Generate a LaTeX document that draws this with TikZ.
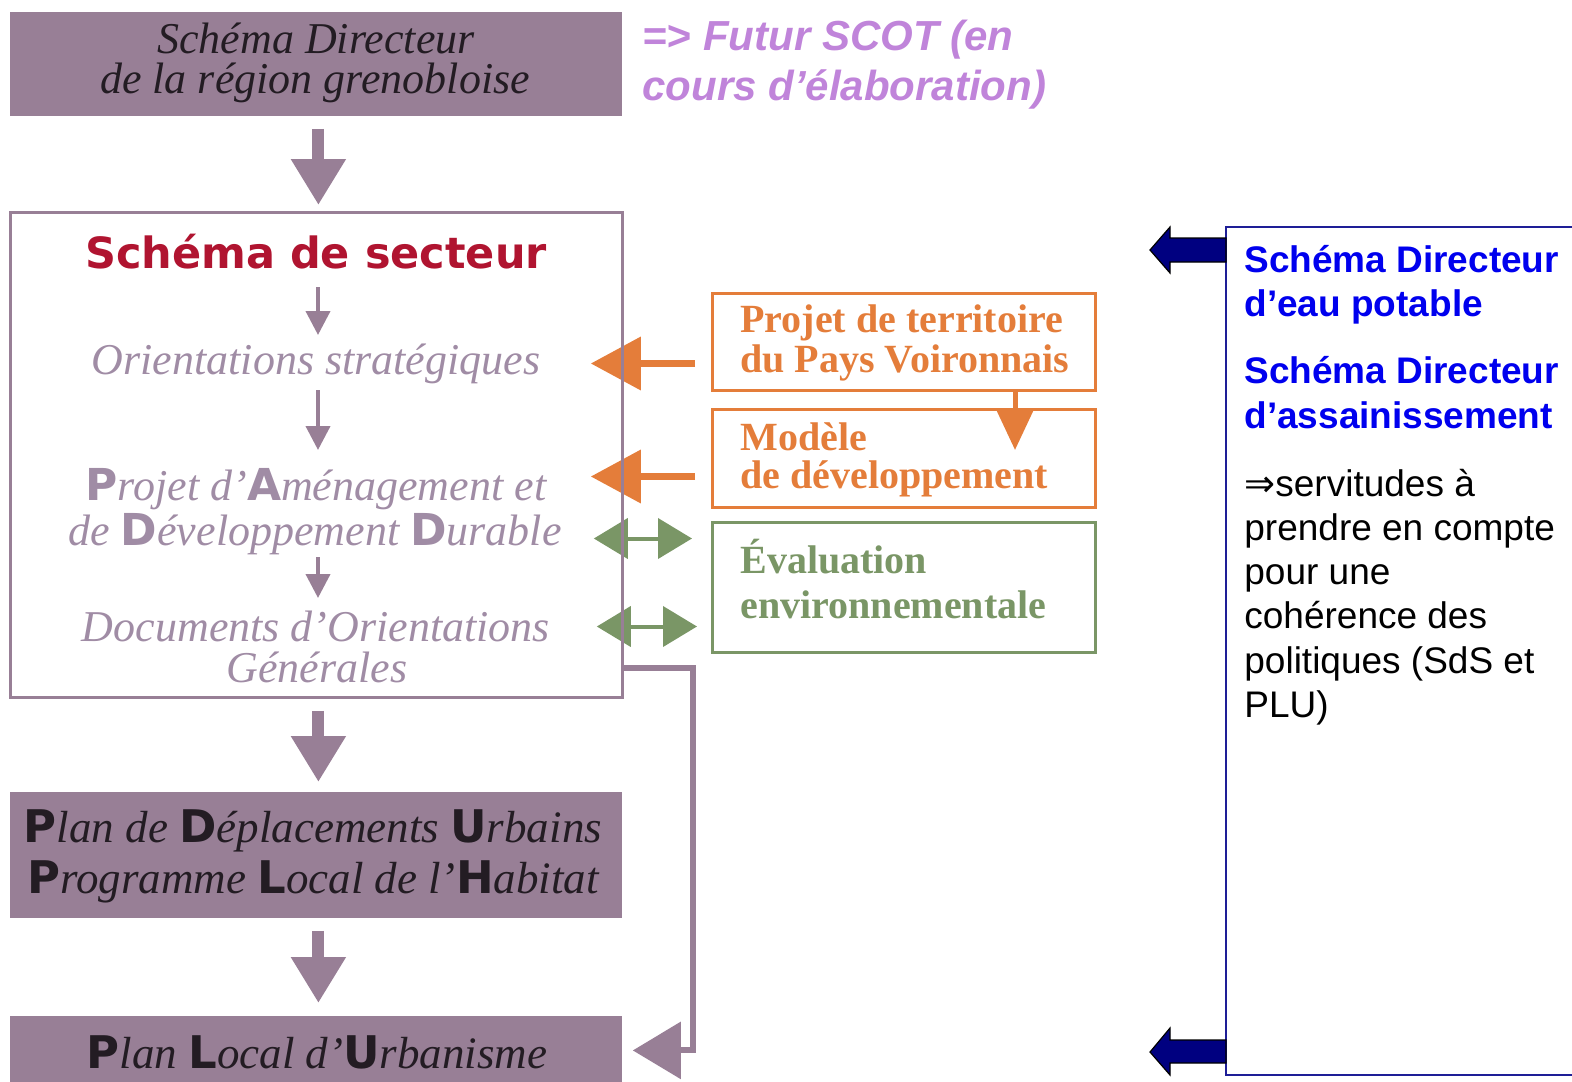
\documentclass[tikz,border=0pt]{standalone}
\usepackage{fontspec}
\setmainfont{Liberation Serif}
\newfontfamily\arialf{Liberation Sans}
\newfontfamily\dejaf{DejaVu Sans}
\usetikzlibrary{arrows.meta,calc}
\definecolor{mauvefill}{RGB}{152,127,150}
\definecolor{mauvetext}{RGB}{160,140,165}
\definecolor{sdsred}{RGB}{176,20,48}
\definecolor{orangec}{RGB}{228,125,58}
\definecolor{greenc}{RGB}{122,150,102}
\definecolor{scotpurple}{RGB}{192,132,218}
\definecolor{bluetext}{RGB}{0,0,238}
\definecolor{navyc}{RGB}{0,0,128}
\definecolor{navyline}{RGB}{30,30,150}
\definecolor{darktext}{RGB}{35,28,35}
\newcommand{\hv}[1]{{\dejaf\bfseries\upshape #1}}
\begin{document}
\begin{tikzpicture}[x=0.5pt,y=-0.5pt,
  fillbox/.style={fill=mauvefill, draw=none, anchor=north west, inner sep=0pt},
  lbl/.style={inner sep=0pt, anchor=base},
  lblw/.style={inner sep=0pt, anchor=base west},
  serit/.style={font=\fontsize{22}{22}\selectfont\itshape},
  bigit/.style={font=\fontsize{22.5}{22.5}\selectfont\itshape, text=darktext},
  orbox/.style={draw=orangec, line width=1.5pt, anchor=north west, inner sep=0pt, minimum width=191.5pt},
  orlbl/.style={inner sep=0pt, anchor=base west, font=\fontsize{20}{20}\selectfont\bfseries, text=orangec},
  grlbl/.style={inner sep=0pt, anchor=base west, font=\fontsize{20}{20}\selectfont\bfseries, text=greenc},
  bluelbl/.style={inner sep=0pt, anchor=base west, font=\arialf\bfseries\fontsize{18.5}{18.5}\selectfont, text=bluetext},
  blacklbl/.style={inner sep=0pt, anchor=base west, font=\arialf\fontsize{18.5}{18.5}\selectfont, text=black},
  bigarr/.style={draw=mauvefill, line width=6pt, -{Triangle[width=26pt,length=23pt]}},
  smarr/.style={draw=mauvefill, line width=2pt, -{Triangle[width=12pt,length=12pt]}},
  orarr/.style={draw=orangec, line width=3.5pt, -{Triangle[width=26pt,length=25pt]}},
  orarrb/.style={draw=orangec, line width=2.5pt, -{Triangle[width=18pt,length=20pt]}},
  grarr/.style={draw=greenc, line width=2pt, {Triangle[width=20pt,length=17pt]}-{Triangle[width=20pt,length=17pt]}},
  connarr/.style={draw=mauvefill, line width=3pt, -{Triangle[width=28pt,length=24pt]}},
  bluearr/.style={fill=navyc, draw=black, line width=0.6pt}
]
\useasboundingbox (0,0) rectangle (1572,1081);

% top box
\node[fillbox, minimum width=306pt, minimum height=52pt] (top) at (10,12) {};
\node[lbl, serit, text=darktext] (top1) at (316,54) {Schéma Directeur};
\node[lbl, serit, text=darktext] (top2) at (315,94) {de la région grenobloise};

% SCOT text
\node[lblw, font=\arialf\bfseries\itshape\fontsize{21}{21}\selectfont, text=scotpurple] (scot1) at (642,51) {=> Futur SCOT (en};
\node[lblw, font=\arialf\bfseries\itshape\fontsize{21}{21}\selectfont, text=scotpurple] (scot2) at (642,101) {cours d’élaboration)};

% big box (border drawn later)
\node[anchor=north west, inner sep=0pt, minimum width=306pt, minimum height=242.5pt] (bigbox) at (10,212) {};

% lower boxes
\node[fillbox, minimum width=306pt, minimum height=63pt] (pdu) at (10,792) {};
\node[fillbox, minimum width=306pt, minimum height=40pt] (plu) at (10,1016) {};

% orange / green boxes
\node[orbox, minimum height=48.5pt] (proj) at (711,292) {};
\node[orbox, minimum height=49pt] (modele) at (711,408) {};
\node[orbox, draw=greenc, minimum height=65pt] (evalb) at (711,521) {};

% right box
\node[draw=navyline, line width=1pt, anchor=north west, inner sep=0pt, minimum width=178pt, minimum height=424pt] (rbox) at (1225,226) {};

% arrows into big box
\draw[orarr] ($(proj.west)+(-16,21.5)$) -- ($(bigbox.east|-proj.west)+(-32,21.5)$);
\draw[orarr] ($(modele.west)+(-16,18)$) -- ($(bigbox.east|-modele.west)+(-32,18)$);
\draw[grarr] ($(evalb.west)+(-19,-49)$) -- ($(bigbox.east|-evalb.west)+(-29,-49)$);
\draw[grarr] ($(evalb.west)+(-14,39)$) -- ($(bigbox.east|-evalb.west)+(-26,39)$);
\draw[orarrb] ($(proj.south west)+(304,0)$) -- ($(modele.north west)+(304,42)$);

% big box border
\draw[mauvefill, line width=1.5pt] (bigbox.north west) rectangle (bigbox.south east);

% big box content
\node[lbl, font=\dejaf\bfseries\fontsize{21.5}{21.5}\selectfont, text=sdsred] (sdsT) at (316,268) {Schéma de secteur};
\node[lbl, serit, text=mauvetext] (orient) at (316,374) {Orientations stratégiques};
\node[lbl, serit, text=mauvetext] (padd1) at (316,500) {\hv{P}rojet d’\hv{A}ménagement et};
\node[lbl, serit, text=mauvetext] (padd2) at (315,545) {de \hv{D}éveloppement \hv{D}urable};
\node[lbl, serit, text=mauvetext] (doc1) at (316,641) {Documents d’Orientations};
\node[lbl, serit, text=mauvetext] (doc2) at (317,682) {Générales};

\draw[smarr] ($(sdsT.base)+(2,19)$) -- ($(orient.base)+(2,-39)$);
\draw[smarr] ($(orient.base)+(2,16)$) -- ($(padd1.base)+(2,-50)$);
\draw[smarr] ($(padd2.base)+(3,12)$) -- ($(doc1.base)+(2,-43)$);

% big arrows
\draw[bigarr] ($(top.south)+(2,12)$) -- ($(bigbox.north)+(2,-7)$);
\draw[bigarr] ($(bigbox.south)+(2,13)$) -- ($(pdu.north)+(2,-10)$);
\draw[bigarr] ($(pdu.south)+(2,12)$) -- ($(plu.north)+(2,-13)$);

% connector to PLU
\draw[connarr] ($(bigbox.east)+(0,213.5)$) -- ++(70,0) |- ($(plu.east)+(10,-6)$);

% lower box texts
\node[lbl, bigit] (pdu1) at (313,842) {\hv{P}lan de \hv{D}éplacements \hv{U}rbains};
\node[lbl, bigit] (pdu2) at (313,893) {\hv{P}rogramme \hv{L}ocal de l’\hv{H}abitat};
\node[lbl, bigit] (plu1) at (317,1068) {\hv{P}lan \hv{L}ocal d’\hv{U}rbanisme};

% orange / green texts
\node[orlbl] (proj1) at (740,332) {Projet de territoire};
\node[orlbl] (proj2) at (740,372) {du Pays Voironnais};
\node[orlbl] (mod1) at (740,450) {Modèle};
\node[orlbl] (mod2) at (740,488) {de développement};
\node[grlbl] (ev1) at (740,573) {Évaluation};
\node[grlbl] (ev2) at (740,618) {environnementale};

% right box text
\node[bluelbl] (r1) at (1244,272) {Schéma Directeur};
\node[bluelbl] (r2) at (1244,316) {d’eau potable};
\node[bluelbl] (r3) at (1244,383) {Schéma Directeur};
\node[bluelbl] (r4) at (1244,428) {d’assainissement};
\node[blacklbl] (r5) at (1244,496) {{\dejaf ⇒}servitudes à};
\node[blacklbl] (r6) at (1244,540) {prendre en compte};
\node[blacklbl] (r7) at (1244,584) {pour une};
\node[blacklbl] (r8) at (1244,628) {cohérence des};
\node[blacklbl] (r9) at (1244,673) {politiques (SdS et};
\node[blacklbl] (r10) at (1244,717) {PLU)};

% blue block arrows
\filldraw[bluearr] (1226,238) -- (1170,238) -- (1170,227) -- (1150,250) -- (1170,273) -- (1170,262) -- (1226,262) -- cycle;
\filldraw[bluearr] (1226,1040) -- (1170,1040) -- (1170,1028) -- (1150,1052) -- (1170,1075) -- (1170,1063) -- (1226,1063) -- cycle;
\end{tikzpicture}
\end{document}
